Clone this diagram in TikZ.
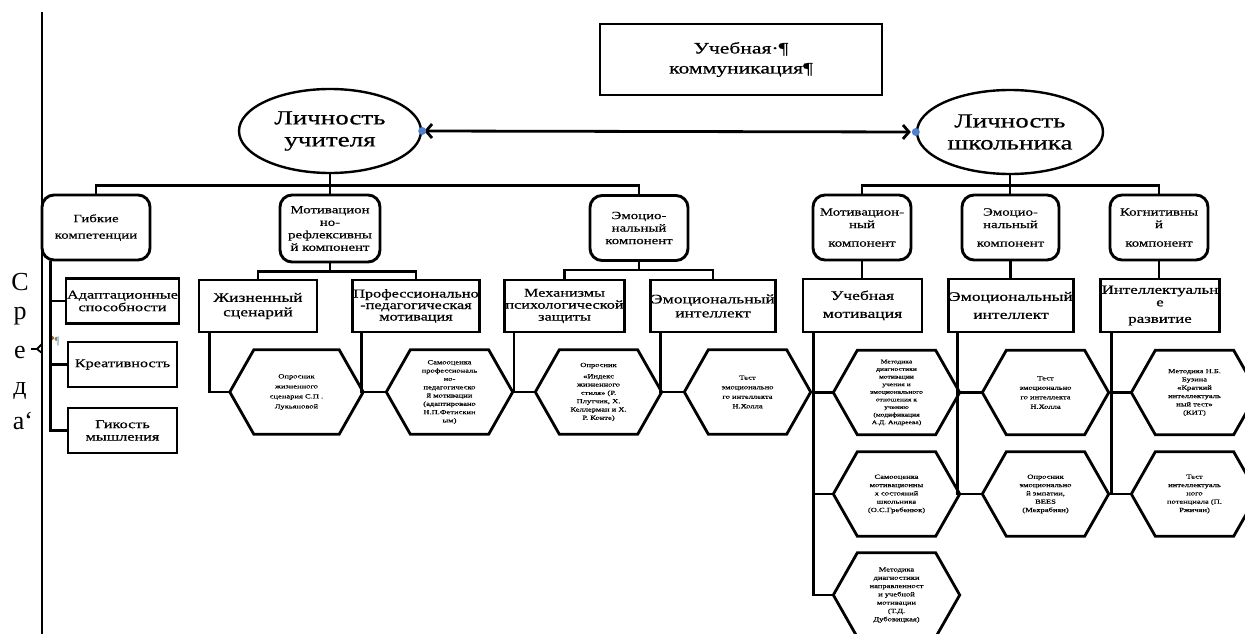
\documentclass[tikz,border=0pt]{standalone}
\usepackage{fontspec}
\setmainfont[FakeStretch=1.35,FakeBold=0.6]{Liberation Serif}
\newfontfamily\plainserif{Liberation Serif}
\usetikzlibrary{calc,arrows.meta,shapes.geometric}
\definecolor{dotblue}{HTML}{4F81D0}
\definecolor{pilgray}{HTML}{6E8A8A}
\tikzset{
  conn/.style={line width=2.8pt},
  ell/.style={ellipse, draw, line width=2.4pt, minimum width=182pt, minimum height=84pt, inner sep=0pt, align=center, font=\fontsize{20}{22}\selectfont},
  comp/.style={rectangle, rounded corners=12pt, draw, line width=2.9pt, minimum width=98pt, minimum height=65pt, inner sep=1pt, align=center, font=\fontsize{11}{12.5}\selectfont},
  sub/.style={rectangle, draw, line width=2.9pt, minimum width=118pt, minimum height=52pt, inner sep=1pt, align=center, font=\fontsize{12.5}{13}\selectfont},
  small/.style={rectangle, draw, line width=2.9pt, minimum width=109pt, minimum height=45pt, inner sep=1pt, align=center, font=\fontsize{12}{12.5}\selectfont},
  hex/.style={rectangle, minimum width=126pt, minimum height=84pt, inner sep=0pt, align=center, font=\fontsize{6.3}{8.3}\selectfont},
  letter/.style={inner sep=0pt, font=\plainserif\fontsize{26}{26}\selectfont},
}
\newcommand\hexpath[1]{\draw[conn] (#1.west) -- ([xshift=24pt]#1.north west) -- ([xshift=-24pt]#1.north east) -- (#1.east) -- ([xshift=-24pt]#1.south east) -- ([xshift=24pt]#1.south west) -- cycle;}
\begin{document}
\begin{tikzpicture}[x=1pt,y=-1pt]
\clip (0,0) rectangle (1245,634);
\fill[white] (0,0) rectangle (1245,634);

% left environment line
\coordinate (vtop) at (42,12);
\coordinate (vbot) at (42,634);
\draw[conn] (vtop) -- (vbot);
\node[letter] (s1) at (20,282) {С};
\node[letter] (s2) at (20,316) {р};
\node[letter] (s3) at (20,352) {е};
\node[letter] (s4) at (20,391) {д};
\node[letter] (s5) at (23,421) {а‘};
\coordinate (br1) at (31,349);
\coordinate (br2) at (37,349);
\draw[line width=1.8pt] (br1) -- (br2) -- (42,344);
\draw[line width=1.8pt] (br2) -- (42,353);
\fill[orange!70!black] (52,338) circle (2pt);
\node[inner sep=0pt, text=pilgray, font=\plainserif\fontsize{11}{11}\selectfont] (pil) at (57,342) {¶};

% title box
\node[rectangle, draw, line width=2.9pt, minimum width=282pt, minimum height=71pt, align=center, font=\fontsize{16}{20}\selectfont] (tbox) at (741,59.5) {Учебная·¶\\коммуникация¶};

% ellipses
\node[ell] (ellL) at (330,131) {Личность\\учителя};
\node[ell, minimum width=186pt] (ellR) at (1010,132) {Личность\\школьника};
\draw[conn, {Straight Barb[length=6pt,width=14pt]}-{Straight Barb[length=6pt,width=14pt]}, shorten <=2pt, shorten >=5pt] (ellL.east) -- (ellR.west);
\fill[dotblue] (ellL.east) circle (4pt);
\fill[dotblue] (ellR.west) circle (4pt);

% level 2 left
\node[comp, minimum width=108pt] (gib) at (96,227.5) {Гибкие\\[4pt]компетенции};
\node[comp, minimum width=100pt, minimum height=67pt] (motL) at (330,228.5) {Мотивацион\\но-\\рефлексивны\\й компонент};
\node[comp] (emoL) at (639,228) {Эмоцио-\\нальный\\компонент};
% level 2 right
\node[comp] (motR) at (862,227.5) {Мотивацион-\\ный\\[6pt]компонент};
\node[comp, minimum width=97pt] (emoR) at (1010.5,227.5) {Эмоцио-\\нальный\\[6pt]компонент};
\node[comp] (kog) at (1159,227.5) {Когнитивны\\й\\[6pt]компонент};

\draw[conn] (gib.north) |- ($(ellL.south)+(0,11)$) -| (emoL.north);
\draw[conn] (ellL.south) -- (motL.north);
\draw[conn] (motR.north) |- ($(ellR.south)+(0,10)$) -| (kog.north);
\draw[conn] (ellR.south) -- (ellR.south |- emoR.north);

% Gibkie children
\node[small] (adapt) at (122.5,301) {Адаптационные\\способности};
\node[small] (kreat) at (122.5,364.5) {Креативность};
\node[small] (gik) at (122.5,430.5) {Гикость\\мышления};
\draw[conn] ([xshift=10pt]gib.south west) |- (gik.west);
\draw[conn] ([xshift=10pt]gib.south west) |- (adapt.west);
\draw[conn] ([xshift=10pt]gib.south west) |- (kreat.west);

% level 3 left
\node[sub, font=\fontsize{13}{14.5}\selectfont] (zhiz) at (258,306) {Жизненный\\сценарий};
\node[sub, font=\fontsize{12}{11.5}\selectfont] (prof) at (416,306) {Профессионально\\-педагогическая\\мотивация};
\node[sub, minimum width=117pt, font=\fontsize{12}{12}\selectfont] (mech) at (564.5,306) {Механизмы\\психологической\\защиты};
\node[sub, font=\fontsize{13}{14}\selectfont] (eint) at (713,306) {Эмоциональный\\интеллект};
\draw[conn] (zhiz.north) |- ($(motL.south)+(0,8)$) -| (prof.north);
\draw[conn] (motL.south) -- ++(0,8);
\draw[conn] (mech.north) |- ($(emoL.south)+(0,8)$) -| (eint.north);
\draw[conn] (emoL.south) -- ++(0,8);

% level 3 right
\node[sub, minimum width=119pt, minimum height=53pt, font=\fontsize{13}{13}\selectfont] (uchm) at (862.5,305.5) {Учебная\\[5pt]мотивация};
\node[sub, minimum height=53pt, font=\fontsize{13}{13}\selectfont] (eintR) at (1011,305.5) {Эмоциональный\\[5pt]интеллект};
\node[sub, minimum height=53pt, font=\fontsize{12.5}{12.5}\selectfont] (intel) at (1160,305.5) {Интеллектуальн\\е\\[4pt]развитие};
\draw[conn] (motR.south) -- (motR.south |- uchm.north);
\draw[conn] (emoR.south) -- (emoR.south |- eintR.north);
\draw[conn] (kog.south) -- (kog.south |- intel.north);

% hexagons left
\node[hex, minimum width=133pt, font=\fontsize{6.3}{10}\selectfont] (h1) at (296.5,392) {Опросник\\жизненного\\сценария С.П .\\Лукьяновой};
\node[hex] (h2) at (449.5,392) {Самооценка\\профессиональ\\но-\\педагогическо\\й мотивации\\(адаптировано\\Н.П.Фетискин\\ым)};
\node[hex] (h3) at (598.5,392) {Опросник\\[3pt]«Индекс\\жизненного\\стиля» (Р.\\Плутчик, Х.\\Келлерман и Х.\\Р. Конте)};
\node[hex, font=\fontsize{6.3}{9.5}\selectfont] (h4) at (747.5,392) {Тест\\эмоционально\\го интеллекта\\Н.Холла};
\foreach \h in {h1,h2,h3,h4} {\hexpath{\h}}
\draw[conn] ([xshift=12pt]zhiz.south west) |- (h1.west);
\draw[conn] ([xshift=11pt]prof.south west) |- (h2.west);
\draw[conn] ([xshift=11pt]mech.south west) |- (h3.west);
\draw[conn] ([xshift=12pt]eint.south west) |- (h4.west);

% hexagons right
\node[hex, font=\fontsize{5.6}{7.6}\selectfont] (r11) at (896.5,392.5) {Методика\\диагностики\\мотивации\\учения и\\эмоционального\\отношения к\\учению\\(модификация\\А.Д. Андреева)};
\node[hex] (r12) at (896.5,494) {Самооценка\\мотивационны\\х состояний\\школьника\\(О.С.Гребенюк)};
\node[hex] (r13) at (896.5,595) {Методика\\диагностики\\направленност\\и учебной\\мотивации\\(Т.Д.\\Дубовицкая)};
\node[hex, font=\fontsize{6.3}{9.5}\selectfont] (r21) at (1045.5,392.5) {Тест\\эмоционально\\го интеллекта\\Н.Холла};
\node[hex] (r22) at (1045.5,494) {Опросник\\эмоционально\\й эмпатии,\\BEES\\(Мехрабиан)};
\node[hex] (r31) at (1194.5,392.5) {Методика Н.Б.\\Бузина\\«Краткий\\интеллектуаль\\ный тест»\\(КИТ)};
\node[hex] (r32) at (1194.5,494) {Тест\\интеллектуаль\\ного\\потенциала (П.\\Ржичан)};
\foreach \h in {r11,r12,r13,r21,r22,r31,r32} {\hexpath{\h}}
\draw[conn] ([xshift=12pt]uchm.south west) |- (r13.west);
\draw[conn] ([xshift=12pt]uchm.south west) |- (r11.west);
\draw[conn] ([xshift=12pt]uchm.south west) |- (r12.west);
\draw[conn] ([xshift=11pt]eintR.south west) |- (r22.west);
\draw[conn] ([xshift=11pt]eintR.south west) |- (r21.west);
\draw[conn] ([xshift=12pt]intel.south west) |- (r32.west);
\draw[conn] ([xshift=12pt]intel.south west) |- (r31.west);
\end{tikzpicture}
\end{document}
